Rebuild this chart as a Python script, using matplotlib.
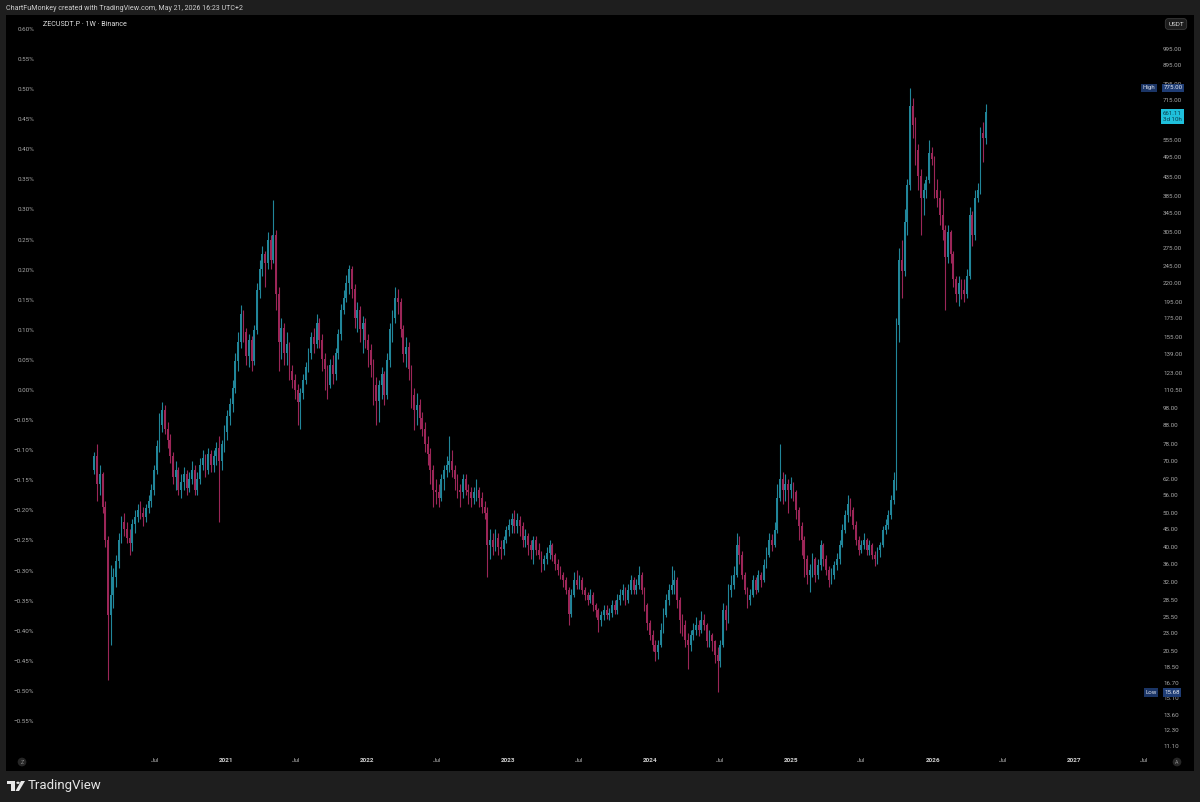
import datetime as dt

import matplotlib
matplotlib.use("Agg")
import matplotlib.pyplot as plt
import matplotlib.dates as mdates
import matplotlib.transforms as mtransforms
from matplotlib.patches import Rectangle, Circle, Polygon
from matplotlib.ticker import NullLocator
import numpy as np

plt.rcParams['font.family'] = ['Roboto', 'DejaVu Sans']

# ---- data: ZECUSDT.P weekly candles ----
first_week = dt.date(2020, 1, 27)
first_open = 66

closes = [
    72, 60, 64, 52, 42, 25.9, 29.4, 33, 36.5, 42,
    47, 45, 42.5, 41, 46.5, 48.5, 51, 50, 48.5, 51.5,
    54, 58, 66, 77, 88, 97, 86, 80, 72, 63,
    66, 58, 61, 64, 58.5, 62, 66, 58, 62, 68,
    71, 66, 73, 68, 72, 76, 70, 78, 84, 93,
    101, 112, 133, 150, 180, 160, 137, 152, 133, 162,
    210, 240, 265, 250, 290, 255, 300, 205, 150, 165,
    140, 148, 125, 118, 110, 102, 108, 118, 128, 140,
    155, 148, 170, 152, 135, 126, 114, 130, 122, 140,
    158, 185, 200, 220, 240, 212, 175, 185, 163, 170,
    152, 143, 130, 114, 103, 114, 122, 107, 134, 163,
    175, 200, 195, 163, 139, 146, 126, 107, 97, 100,
    92, 86, 78, 73, 66, 58, 57, 55, 62, 66,
    68, 70, 66, 62, 58, 57, 62, 58, 57, 55,
    57, 58, 55, 52, 50, 40.5, 42, 40, 42.5, 40,
    39.5, 42, 44.8, 46.2, 48, 46, 47.7, 46, 42, 43,
    40.6, 39.3, 42, 39.3, 38.1, 36, 37, 38.5, 40.6, 38.1,
    36, 34.6, 33.5, 32.4, 30.4, 26, 29.4, 32.4, 31.4, 32.4,
    30.4, 29.4, 28.5, 29.4, 27.6, 26.7, 25.1, 25.9, 26.7, 25.9,
    26.2, 27.6, 26.7, 28.5, 29.4, 30.4, 28.5, 30.4, 32.4, 30.4,
    31.4, 33.5, 30.4, 27.6, 24.5, 22.7, 21.3, 20.3, 21.3, 23.5,
    25.9, 28.5, 30.4, 31.4, 32.4, 28.5, 25.1, 24.3, 22, 21.3,
    22.7, 23.5, 24.3, 23.5, 25.1, 24.3, 21.8, 22.7, 21.8, 20,
    19.2, 21.3, 26.7, 25.1, 30.4, 31.4, 33.5, 40.6, 38.1, 33.5,
    30.4, 28.5, 29.4, 32.4, 30.4, 33.5, 32.4, 35.7, 38.1, 42,
    40.6, 44.8, 55, 62, 58, 60, 58, 60, 57, 51,
    46, 42, 37, 33.5, 34.6, 37, 33.5, 35.7, 40.6, 37,
    34.6, 32.4, 33.5, 35.7, 37, 40.6, 44.8, 49.3, 53, 50.9,
    46.2, 42, 39.3, 40.6, 42, 39.3, 40.6, 38.1, 37, 39.3,
    40.6, 44.8, 46.2, 49.3, 54.3, 61.8, 168, 255, 237, 325,
    414, 690, 610, 520, 440, 380, 400, 428, 510, 490,
    400, 380, 340, 310, 260, 305, 265, 225, 205, 220,
    210, 205, 230, 340, 300, 380, 400, 580, 560, 661.11,
]

highs = [
    74, 78, 68, 65, 54, 43, 35.7, 35, 38, 44,
    49, 50, 47, 45, 48, 51, 53, 54, 52, 53,
    56, 60, 68, 80, 95, 102, 100, 90, 83, 74,
    70, 67, 64, 67, 66, 65, 70, 68, 65, 71,
    75, 73, 76, 75, 75, 79, 82, 80, 88, 97,
    105, 118, 140, 160, 191, 185, 165, 158, 156, 168,
    220, 255, 280, 270, 305, 300, 376, 310, 215, 175,
    170, 160, 150, 130, 122, 115, 112, 122, 132, 145,
    160, 165, 180, 175, 158, 140, 130, 135, 138, 145,
    164, 192, 210, 232, 247, 245, 218, 195, 190, 178,
    175, 158, 148, 135, 120, 118, 128, 125, 140, 170,
    185, 215, 212, 200, 168, 155, 150, 130, 112, 108,
    104, 96, 90, 82, 76, 68, 62, 60, 64, 68,
    72, 82, 75, 68, 64, 60, 64, 64, 60, 59,
    59, 62, 59, 57, 54, 52, 45, 44, 45, 44,
    42, 43, 46, 48, 50, 51, 50, 49, 47, 45,
    44, 42, 43, 43, 41, 39, 38, 40, 42, 41,
    38.5, 37, 35.5, 34, 33, 31, 30.5, 34, 34.5, 33.5,
    33, 31, 30, 30.5, 30, 28, 27, 26.5, 27.5, 27.5,
    27, 28.5, 28.5, 29.5, 30.5, 31.5, 31, 31.5, 33.5, 33,
    32.5, 35.5, 34, 31, 28, 25, 23.5, 22, 22, 24.5,
    27, 29.5, 31.5, 35.5, 34.5, 33, 29, 26, 25, 23,
    23.5, 24.5, 25.5, 25, 26.5, 26, 24.5, 23.5, 23, 22,
    21, 22, 28, 27.5, 31.5, 33.5, 35.5, 44, 43, 39,
    34, 31, 30.5, 33.5, 33, 34.5, 34, 37, 40, 44,
    43.5, 47, 60, 78, 65, 64, 62, 63, 61, 58,
    52, 47, 43, 38, 36, 38.5, 37.5, 37, 42, 41,
    38, 35.5, 35, 36.5, 38.5, 42, 46.5, 51, 56, 55,
    52, 47.5, 43, 42, 44, 42.5, 42, 41, 39, 40,
    41.5, 46, 48, 51, 56, 65, 175, 275, 290, 355,
    430, 775, 725, 640, 540, 460, 420, 440, 555, 530,
    500, 430, 400, 380, 320, 320, 310, 270, 230, 230,
    225, 225, 240, 360, 350, 400, 420, 600, 620, 700,
]

lows = [
    64, 54, 56, 50, 40, 17, 21.3, 27, 31, 35,
    41, 43, 41, 38, 39, 44, 47, 48, 46, 47,
    50, 52, 56, 64, 74, 84, 83, 76, 69, 60,
    58, 56, 55, 58, 56, 57, 60, 56, 56, 60,
    66, 63, 64, 65, 65, 68, 47, 66, 74, 80,
    88, 96, 108, 125, 145, 150, 130, 128, 125, 130,
    158, 200, 230, 215, 240, 240, 250, 185, 125, 135,
    130, 130, 118, 112, 104, 88, 86, 104, 115, 124,
    135, 140, 145, 145, 125, 110, 104, 112, 115, 118,
    135, 152, 180, 195, 205, 200, 165, 160, 150, 140,
    145, 128, 120, 100, 88, 90, 104, 100, 104, 128,
    150, 170, 180, 155, 132, 128, 118, 98, 85, 88,
    86, 82, 74, 68, 60, 52, 53, 52, 54, 58,
    63, 65, 63, 58, 55, 52, 55, 56, 53, 52,
    53, 54, 52, 50, 48, 33, 37, 38, 39, 38,
    37, 38, 41, 43, 44, 44, 44, 43, 40, 40,
    38, 37, 36, 38, 37, 34, 34.5, 36, 37, 36.5,
    34.5, 33.5, 32.5, 31, 29.5, 24.3, 25.5, 29, 30.5, 30.5,
    29.5, 28.5, 27.5, 28, 26.5, 25.5, 23.2, 24, 25, 25.2,
    25, 25.5, 26, 26, 27.5, 28.5, 27.5, 28, 29.5, 29.5,
    29.5, 30.5, 29.5, 26.5, 23.5, 22, 20.5, 19.2, 19.5, 21,
    23, 25.5, 27.5, 29.5, 29.5, 27, 23, 22.5, 21, 18.2,
    20.5, 22, 22.7, 22.5, 23, 23.5, 21, 21, 20.5, 19,
    15.68, 18.5, 21, 23.5, 24.5, 29, 30.5, 33, 36, 32.5,
    29.5, 27, 27.5, 29, 29.5, 30, 31, 32, 35, 37.5,
    39, 40, 44, 54, 53, 54, 50, 55, 54, 48,
    42, 38, 33, 31.5, 30, 33, 32, 32.5, 34.5, 35.5,
    33.5, 31, 31.5, 32.5, 34.5, 36, 40, 44, 47, 49,
    45, 40.5, 38, 38.5, 39.5, 38, 38, 37, 35.5, 36,
    37.5, 40, 43.5, 45, 48, 53, 58, 150, 200, 230,
    300, 400, 560, 470, 400, 300, 340, 380, 420, 470,
    380, 360, 320, 290, 185, 250, 250, 215, 195, 190,
    198, 195, 200, 225, 280, 290, 370, 390, 480, 540,
]

# 635.00 sits under the live-price tag in the screenshot, so it is left out
price_ticks = [995, 895, 795, 715, 555, 495, 435, 385, 345, 305, 275,
               245, 220, 195, 175, 155, 139, 123, 110.5, 98, 88, 78, 70, 62,
               56, 50, 45, 40, 36, 32, 28.5, 25.5, 23, 20.5, 18.5, 16.7, 15.1,
               13.6, 12.3, 11.1]
pct_ticks = [0.60, 0.55, 0.50, 0.45, 0.40, 0.35, 0.30, 0.25, 0.20, 0.15, 0.10,
             0.05, 0.0, -0.05, -0.10, -0.15, -0.20, -0.25, -0.30, -0.35, -0.40,
             -0.45, -0.50, -0.55]
time_tick_dates = ["2020-07-01", "2021-01-01", "2021-07-01", "2022-01-01",
                   "2022-07-01", "2023-01-01", "2023-07-01", "2024-01-01",
                   "2024-07-01", "2025-01-01", "2025-07-01", "2026-01-01",
                   "2026-07-01", "2027-01-01", "2027-07-01"]
time_tick_labels = ["Jul", "2021", "Jul", "2022", "Jul", "2023", "Jul", "2024",
                    "Jul", "2025", "Jul", "2026", "Jul", "2027", "Jul"]

all_high = 775.00
all_low = 15.68
last_price = 661.11
countdown = "3d 10h"

UP = '#21869a'
DOWN = '#9c2658'
BG = '#1e1e1e'
TXT = '#a9a9a9'

# ---- figure ----
W, H = 1200, 802
fig = plt.figure(figsize=(12, 8.02), dpi=100, facecolor=BG)


def frame(x0, y0, x1, y1):
    return [x0 / W, 1 - y1 / H, (x1 - x0) / W, (y1 - y0) / H]


ax = fig.add_axes(frame(6, 15, 1194, 771))
ax.set_facecolor('black')
ax.set_yscale('log')
# percent scale lives on a twin axis; create it first, twinx resets tick sides
ax2 = ax.twinx()

dates = [first_week + dt.timedelta(weeks=i) for i in range(len(closes))]
x = mdates.date2num(dates)
c = np.array(closes, dtype=float)
o = np.concatenate([[first_open], c[:-1]])
hi = np.maximum(np.array(highs, dtype=float), np.maximum(o, c))
lo = np.minimum(np.array(lows, dtype=float), np.minimum(o, c))
up = c >= o
cols = np.where(up, UP, DOWN)

ax.vlines(x, lo, hi, colors=cols, linewidth=0.8)
ax.bar(x, np.abs(c - o), bottom=np.minimum(o, c), width=4.6, color=cols,
       linewidth=0)

# axis ranges so the scale lines up with the screenshot
px_per_day = 0.3871
ref = mdates.date2num(dt.date(2021, 1, 1))
ax.set_xlim(ref - 220 / px_per_day, ref + 968 / px_per_day)
px_per_dec = 357.0
top_log = np.log10(995) + 34 / px_per_dec
bot_log = np.log10(995) - 722 / px_per_dec
ax.set_ylim(10 ** bot_log, 10 ** top_log)

for s in list(ax.spines.values()) + list(ax2.spines.values()):
    s.set_visible(False)

# price scale (right)
ax.yaxis.tick_right()
ax.yaxis.set_minor_locator(NullLocator())
ax.set_yticks(price_ticks)
ax.set_yticklabels([f"{p:.2f}" for p in price_ticks])
ax.tick_params(axis='y', which='both', length=0, pad=-22.3, labelsize=4.5,
               labelcolor=TXT, left=False, labelleft=False)

# time scale
ax.set_xticks([mdates.date2num(dt.date.fromisoformat(d)) for d in time_tick_dates])
ax.set_xticklabels(time_tick_labels)
ax.tick_params(axis='x', length=0, pad=-9, labelsize=4.6, labelcolor=TXT)
for lab in ax.get_xticklabels():
    if lab.get_text() != "Jul":
        lab.set_fontweight('bold')
        lab.set_color('#d0d0d0')

# percent scale (left)
ax2.set_ylim(-(771 - 390) / 30.1 * 0.05, (390 - 15) / 30.1 * 0.05)
ax2.yaxis.tick_left()
ax2.set_yticks(pct_ticks)
ax2.set_yticklabels([f"{v:.2f}%".replace("-", "\u2212") for v in pct_ticks])
ax2.tick_params(axis='y', length=0, pad=-20.2, labelsize=4.5, labelcolor=TXT,
                right=False, labelright=False)

# ---- labels on the price scale ----
tr = mtransforms.blended_transform_factory(ax.transAxes, ax.transData)


def afx(px):
    return (px - 6) / 1188


box_kw = dict(boxstyle='square,pad=0.28', ec='none')
ax.text(afx(1149), all_high, "High", transform=tr, ha='center', va='center',
        fontsize=4.4, color='#d6dbe6', bbox=dict(fc='#1b3566', **box_kw),
        clip_on=False, zorder=5)
ax.text(afx(1173), all_high, f"{all_high:.2f}", transform=tr, ha='center',
        va='center', fontsize=4.4, color='#e8ecf4',
        bbox=dict(fc='#1f3d75', **box_kw), clip_on=False, zorder=5)
ax.text(afx(1151), all_low, "Low", transform=tr, ha='center', va='center',
        fontsize=4.4, color='#d6dbe6', bbox=dict(fc='#1b3566', **box_kw),
        clip_on=False, zorder=5)
ax.text(afx(1172), all_low, f"{all_low:.2f}", transform=tr, ha='center',
        va='center', fontsize=4.4, color='#e8ecf4',
        bbox=dict(fc='#1f3d75', **box_kw), clip_on=False, zorder=5)
lp_tr = tr + mtransforms.ScaledTranslation(0, 0.8 / 72, fig.dpi_scale_trans)
ax.text(afx(1172.5), last_price, f"{last_price:.2f}\n{countdown}",
        transform=lp_tr, ha='center', va='top', fontsize=4.4,
        color='#0b3b4a', linespacing=1.15,
        bbox=dict(boxstyle='square,pad=0.35', fc='#1fc0dc', ec='none'),
        clip_on=False, zorder=5)

# corner badges on the time scale
for px, letter in [(22, "Z"), (1177, "A")]:
    ax.text(afx(px), (771 - 762) / 756, letter, transform=ax.transAxes,
            ha='center', va='center', fontsize=3.8, color='#8a8a8a',
            bbox=dict(boxstyle='circle,pad=0.35', fc='#262626', ec='none'))

# ---- header / footer text ----
fig.text(6 / W, 1 - 8 / H,
         "ChartFuMonkey created with TradingView.com, May 21, 2026 16:23 UTC+2",
         fontsize=5.1, color='#cfcfcf', va='center')
fig.text(43 / W, 1 - 24 / H, "ZECUSDT.P \u00b7 1W \u00b7 Binance",
         fontsize=5.1, color='#e0e0e0', va='center')
fig.text(1176 / W, 1 - 24 / H, "USDT", ha='center', va='center',
         fontsize=4.6, color='#d6d6d6',
         bbox=dict(boxstyle='round,pad=0.45', fc='#1c1c1c', ec='#3a3a3a',
                   lw=0.6))

# TradingView logo
def fp(px, py):
    return (px / W, 1 - py / H)


logo_col = '#e6e6e6'
fig.patches.append(Rectangle(fp(7, 784), 8 / W, 3 / H, transform=fig.transFigure,
                             fc=logo_col, ec='none'))
fig.patches.append(Rectangle(fp(11, 791), 4 / W, 10 / H, transform=fig.transFigure,
                             fc=logo_col, ec='none'))
fig.patches.append(Circle(fp(18, 782.8), 1.7 / W, transform=fig.transFigure,
                          fc=logo_col, ec='none'))
fig.patches.append(Polygon([fp(21, 781), fp(25, 781), fp(19, 791), fp(15.5, 791)],
                           closed=True, transform=fig.transFigure,
                           fc=logo_col, ec='none'))
fig.text(28 / W, 1 - 786 / H, "TradingView", fontsize=9.5, color=logo_col,
         va='center')

fig.savefig("out.png", dpi=100, facecolor=BG)
